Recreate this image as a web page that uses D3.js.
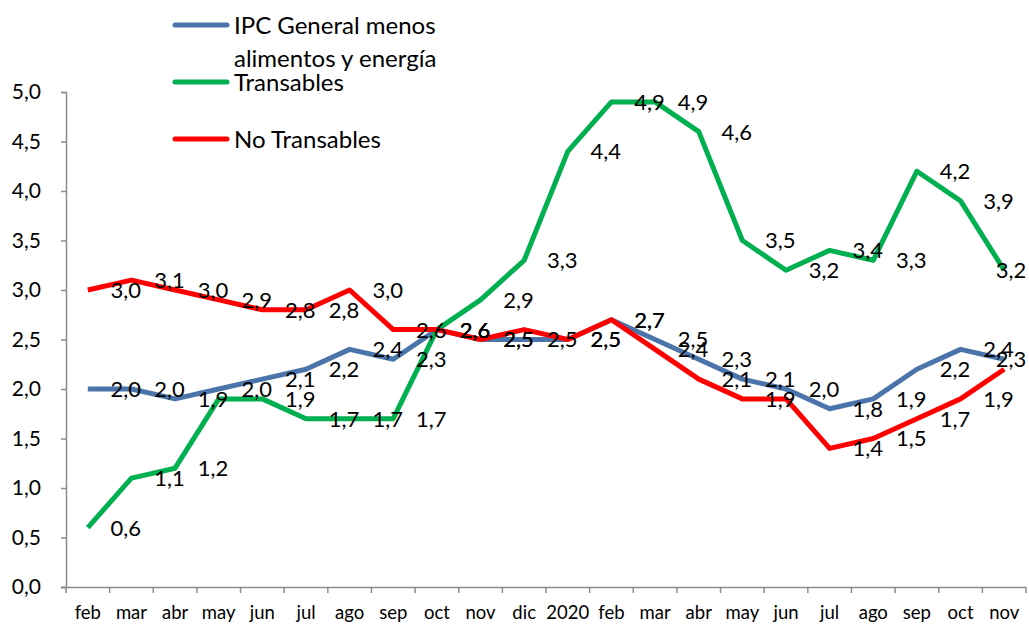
<!DOCTYPE html>
<html>
<head>
<meta charset="utf-8">
<script src="https://cdn.jsdelivr.net/npm/d3@7"></script>
<style>
  body { margin: 0; background: #fff; }
  svg { display: block; font-family: Lato, "Open Sans", sans-serif; }
</style>
</head>
<body>
<div id="chart"></div>
<script>
const months = ['feb', 'mar', 'abr', 'may', 'jun', 'jul', 'ago', 'sep', 'oct', 'nov', 'dic', '2020',
                'feb', 'mar', 'abr', 'may', 'jun', 'jul', 'ago', 'sep', 'oct', 'nov'];
const ipcCore = [2.0, 2.0, 1.9, 2.0, 2.1, 2.2, 2.4, 2.3, 2.6, 2.5, 2.5, 2.5,
                 2.7, 2.5, 2.3, 2.1, 2.0, 1.8, 1.9, 2.2, 2.4, 2.3];
const transables = [0.6, 1.1, 1.2, 1.9, 1.9, 1.7, 1.7, 1.7, 2.6, 2.9, 3.3, 4.4,
                    4.9, 4.9, 4.6, 3.5, 3.2, 3.4, 3.3, 4.2, 3.9, 3.2];
const noTransables = [3.0, 3.1, 3.0, 2.9, 2.8, 2.8, 3.0, 2.6, 2.6, 2.5, 2.6, 2.5,
                      2.7, 2.4, 2.1, 1.9, 1.9, 1.4, 1.5, 1.7, 1.9, 2.2];
const yTicks = [0, 0.5, 1, 1.5, 2, 2.5, 3, 3.5, 4, 4.5, 5];

// points whose data label is not shown in the original
const series = [
  {name: ['IPC General menos', 'alimentos y energía'], values: ipcCore, color: '#4a74aa', noLabel: []},
  {name: ['Transables'], values: transables, color: '#00b050', noLabel: [3]},
  {name: ['No Transables'], values: noTransables, color: '#ff0000', noLabel: [10, 16, 21]},
];

const width = 1029, height = 624;
const plotLeft = 66, plotRight = 1026, plotTop = 92, plotBottom = 587;
const fmt = v => d3.format('.1f')(v).replace('.', ',');

const svg = d3.select('#chart').append('svg')
    .attr('width', width)
    .attr('height', height);

const x = d3.scaleBand()
    .domain(d3.range(months.length))
    .range([plotLeft, plotRight]);
const y = d3.scaleLinear()
    .domain([0, 5])
    .range([plotBottom, plotTop]);

// y axis
const yAxis = svg.append('g')
    .attr('transform', `translate(${plotLeft},0)`)
    .call(d3.axisLeft(y).tickValues(yTicks).tickFormat(fmt).tickSize(5).tickPadding(20));
yAxis.selectAll('path, line').attr('stroke', '#8c8c8c').attr('stroke-width', 1.5);
yAxis.selectAll('text').attr('font-size', 21).attr('fill', '#000')
    .attr('font-family', 'Lato, sans-serif');

// x axis
const xAxis = svg.append('g')
    .attr('transform', `translate(0,${plotBottom})`)
    .call(d3.axisBottom(x).tickFormat(i => months[i]).tickSize(0).tickPadding(19));
xAxis.select('path').attr('stroke', '#8c8c8c').attr('stroke-width', 1.5)
    .attr('d', `M${plotLeft - 5},0.5H${plotRight}`);
xAxis.selectAll('text').attr('font-size', 18.5).attr('fill', '#000')
    .attr('font-family', 'Lato, sans-serif');
svg.append('g')
    .selectAll('line')
    .data(d3.range(months.length + 1))
    .join('line')
    .attr('x1', i => plotLeft + i * x.step())
    .attr('x2', i => plotLeft + i * x.step())
    .attr('y1', plotBottom)
    .attr('y2', plotBottom + 6)
    .attr('stroke', '#8c8c8c')
    .attr('stroke-width', 1.5);

const cx = i => x(i) + x.bandwidth() / 2;
const line = d3.line()
    .x((d, i) => cx(i))
    .y(d => y(d));

// lines
svg.append('g')
    .selectAll('path')
    .data(series)
    .join('path')
    .attr('d', s => line(s.values))
    .attr('fill', 'none')
    .attr('stroke', s => s.color)
    .attr('stroke-width', 5)
    .attr('stroke-linejoin', 'round');

// data labels, to the right of each point
series.forEach(s => {
  svg.append('g')
      .selectAll('text')
      .data(s.values.map((v, i) => ({v, i})).filter(d => !s.noLabel.includes(d.i)))
      .join('text')
      .attr('x', d => Math.min(cx(d.i) + 38, 1011))
      .attr('y', d => y(d.v))
      .attr('dy', '0.36em')
      .attr('text-anchor', 'middle')
      .attr('font-size', 22)
      .attr('fill', '#000')
      .text(d => fmt(d.v));
});

// legend
const legendY = [25, 82, 139];
const legend = svg.append('g');
series.forEach((s, k) => {
  const g = legend.append('g').attr('transform', `translate(0,${legendY[k]})`);
  g.append('line')
      .attr('x1', 175).attr('x2', 227)
      .attr('stroke', s.color)
      .attr('stroke-width', 5)
      .attr('stroke-linecap', 'round');
  s.name.forEach((t, j) => {
    g.append('text')
        .attr('x', 234)
        .attr('y', j * 33)
        .attr('dy', '0.36em')
        .attr('font-size', 24)
        .attr('fill', '#000')
        .text(t);
  });
});
</script>
</body>
</html>
